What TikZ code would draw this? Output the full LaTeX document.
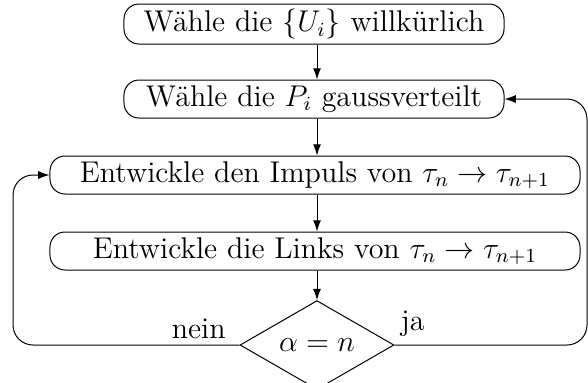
\documentclass[tikz,border=0pt]{standalone}
\usepackage{fontspec}
\usetikzlibrary{shapes.geometric,arrows.meta}
\begin{document}
\begin{tikzpicture}[x=0.4pt,y=-0.4pt,
  box/.style={draw,rounded corners=6pt,minimum height=15.2pt,inner sep=2pt,font=\large},
  dec/.style={draw,diamond,minimum width=61.6pt,minimum height=29.6pt,inner sep=0pt,font=\large},
  arr/.style={-{Latex[length=4.5pt,width=3.2pt]}},
  lbl/.style={font=\large}]
\useasboundingbox (0,0) rectangle (588,382);
\node[box,minimum width=152pt] (b1) at (314,24) {Wähle die $\{U_i\}$ willkürlich};
\node[box,minimum width=152pt] (b2) at (314,99) {Wähle die $P_i$ gaussverteilt};
\node[box,minimum width=212pt] (b3) at (315,175) {Entwickle den Impuls von $\tau_n \to \tau_{n+1}$};
\node[box,minimum width=212pt] (b4) at (315,251) {Entwickle die Links von $\tau_n \to \tau_{n+1}$};
\node[dec] (d) at (317,345) {$\alpha = n$};
\coordinate (l1) at (13,345);
\coordinate (r1) at (587,345);
\draw[arr] (b1.south -| d.north) -- (b2.north -| d.north);
\draw[arr] (b2.south -| d.north) -- (b3.north -| d.north);
\draw[arr] (b3.south -| d.north) -- (b4.north -| d.north);
\draw[arr] (b4.south -| d.north) -- (d.north);
\draw[arr,rounded corners=8pt] (d.west) -- (l1) -- (l1 |- b3.west) -- (b3.west);
\draw[arr,rounded corners=8pt] (d.east) -- (r1) -- (r1 |- b2.east) -- (b2.east);
\node[lbl,anchor=south east] (nein) at ([xshift=-2pt,yshift=-1pt]d.west) {nein};
\node[lbl,anchor=south west] (ja) at ([xshift=-1pt,yshift=0pt]d.east) {ja};
\end{tikzpicture}
\end{document}
